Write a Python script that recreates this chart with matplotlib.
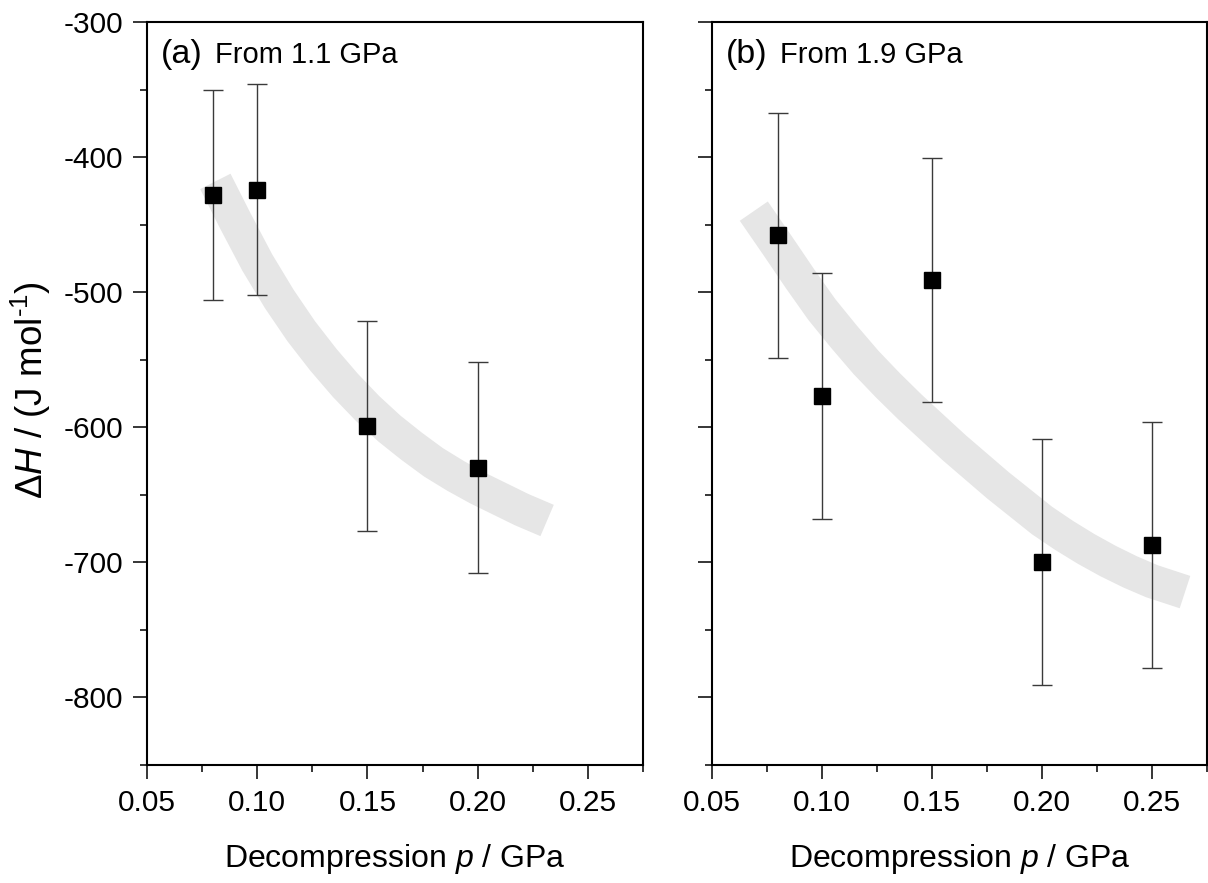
import matplotlib
matplotlib.use("Agg")
import matplotlib.pyplot as plt
from matplotlib.ticker import MultipleLocator

plt.rcParams['font.family'] = ['Liberation Sans', 'DejaVu Sans']
plt.rcParams['mathtext.fontset'] = 'custom'
plt.rcParams['mathtext.rm'] = 'Liberation Sans'
plt.rcParams['mathtext.it'] = 'Liberation Sans:italic'

# Panel (a): from 1.1 GPa
p_a = [0.08, 0.10, 0.15, 0.20]
dH_a = [-428, -424, -599, -630]
err_a = [78, 78, 78, 78]
guide_a_x = [0.081, 0.09, 0.10, 0.11, 0.12, 0.13, 0.14, 0.15, 0.16, 0.17,
             0.18, 0.19, 0.20, 0.21, 0.22, 0.2315]
guide_a_y = [-418, -447, -478, -505, -529, -550, -569, -586, -601, -614,
             -626, -636, -645, -653, -661, -669]

# Panel (b): from 1.9 GPa
p_b = [0.08, 0.10, 0.15, 0.20, 0.25]
dH_b = [-458, -577, -491, -700, -687]
err_b = [91, 91, 90, 91, 91]
guide_b_x = [0.069, 0.08, 0.09, 0.10, 0.11, 0.12, 0.13, 0.14, 0.15, 0.16,
             0.17, 0.18, 0.19, 0.20, 0.21, 0.22, 0.23, 0.24, 0.25, 0.265]
guide_b_y = [-440, -466, -490, -513, -533, -552, -569, -585, -600, -615,
             -629, -643, -656, -669, -680, -690, -699, -707, -714, -722]

panel_tags = ["(a)", "(b)"]
panel_titles = ["From 1.1 GPa", "From 1.9 GPa"]
xlabel = "Decompression $p$ / GPa"
ylabel = "Δ$H$ / (J mol$^{\\text{-1}}$)"

W, H = 1208, 883
fig = plt.figure(figsize=(W / 100, H / 100), dpi=100)
axL = fig.add_axes([147 / W, (H - 765) / H, 496 / W, 743 / H])
axR = fig.add_axes([712 / W, (H - 765) / H, 495 / W, 743 / H])

datasets = [
    (axL, p_a, dH_a, err_a, guide_a_x, guide_a_y),
    (axR, p_b, dH_b, err_b, guide_b_x, guide_b_y),
]

for i, (ax, px, py, pe, gx, gy) in enumerate(datasets):
    ax.plot(gx, gy, color='#e6e6e6', lw=24.5, solid_capstyle='butt', zorder=1)
    ax.errorbar(px, py, yerr=pe, fmt='s', color='black', ms=11,
                ecolor='#3a3a3a', elinewidth=1.0, capsize=7.5, capthick=1.0,
                zorder=3)
    ax.set_xlim(0.05, 0.275)
    ax.set_ylim(-850, -300)
    ax.xaxis.set_major_locator(MultipleLocator(0.05))
    ax.xaxis.set_minor_locator(MultipleLocator(0.025))
    ax.yaxis.set_major_locator(MultipleLocator(100))
    ax.yaxis.set_minor_locator(MultipleLocator(50))
    ax.xaxis.set_major_formatter(plt.FuncFormatter(lambda v, _: f"{v:.2f}"))
    ax.tick_params(which='major', direction='out', length=10, width=1.1,
                   labelsize=21.5, pad=7, top=False, right=False)
    ax.tick_params(which='minor', direction='out', length=5, width=1.1,
                   top=False, right=False)
    for s in ax.spines.values():
        s.set_linewidth(1.5)
    ax.set_xlabel(xlabel, fontsize=23, labelpad=18)
    ax.text(0.028, 0.945, panel_tags[i], transform=ax.transAxes,
            fontsize=24.5, va='baseline', ha='left')
    ax.text(0.138, 0.945, panel_titles[i], transform=ax.transAxes,
            fontsize=21, va='baseline', ha='left')

axL.yaxis.set_major_formatter(plt.FuncFormatter(lambda v, _: f"{int(v)}"))
axL.set_ylabel(ylabel, fontsize=26.5)
axL.yaxis.set_label_coords(-0.19, 0.505)
axR.tick_params(axis='y', labelleft=False)

fig.savefig("out.png", dpi=100)
